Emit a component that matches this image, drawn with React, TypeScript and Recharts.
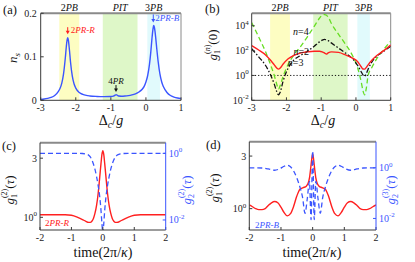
import React from 'react';
import {
  ComposedChart,
  Line,
  XAxis,
  YAxis,
  ReferenceArea,
  ReferenceLine,
  ReferenceDot
} from 'recharts';

const SERIF = 'Liberation Serif, Times New Roman, DejaVu Serif, serif';
const AXIS = '#3a3a3a';
const FRAME = '#8a8a8a';
const BLUE = '#3b55ff';
const RED = '#ff2020';
const GREEN = '#66dd22';
const W = 415;
const H = 262;

// (a) photon number n_s vs detuning
const detA = [-3, -2.9, -2.8, -2.7, -2.6, -2.5, -2.45, -2.4, -2.35, -2.3, -2.27, -2.25, -2.23, -2.21, -2.18, -2.15, -2.1, -2.05, -2, -1.9, -1.8, -1.7, -1.6, -1.4, -1.2, -1.0, -0.93, -0.88, -0.85, -0.82, -0.77, -0.7, -0.6, -0.5, -0.4, -0.3, -0.2, -0.1, -0.05, 0, 0.05, 0.1, 0.14, 0.17, 0.2, 0.22, 0.24, 0.26, 0.28, 0.31, 0.35, 0.4, 0.45, 0.5, 0.6, 0.7, 0.8, 0.9, 1.0];
const nsA = [0.002, 0.003, 0.0045, 0.0065, 0.011, 0.02, 0.027, 0.039, 0.06, 0.096, 0.123, 0.137, 0.144, 0.138, 0.115, 0.088, 0.056, 0.038, 0.028, 0.018, 0.0135, 0.0112, 0.01, 0.0089, 0.0085, 0.0088, 0.0095, 0.0118, 0.0128, 0.0118, 0.0098, 0.0094, 0.0098, 0.0108, 0.0125, 0.015, 0.019, 0.026, 0.032, 0.042, 0.057, 0.082, 0.112, 0.14, 0.163, 0.172, 0.168, 0.158, 0.143, 0.118, 0.088, 0.06, 0.042, 0.031, 0.018, 0.011, 0.0075, 0.0052, 0.0038];

// (b) g1^(n)(0) for n = 2, 3, 4
const detB = [-3, -2.8, -2.6, -2.45, -2.35, -2.28, -2.23, -2.18, -2.1, -1.95, -1.8, -1.6, -1.4, -1.2, -1.05, -0.97, -0.9, -0.85, -0.8, -0.7, -0.5, -0.3, -0.1, 0.05, 0.15, 0.2, 0.25, 0.3, 0.35, 0.45, 0.6, 0.8, 1.0];
const n2B = [251, 112, 45, 15.8, 7.1, 4.0, 3.2, 4.0, 7.9, 22, 40, 63, 79, 89, 89, 79, 63, 52, 66, 79, 71, 45, 25, 12.6, 5.0, 3.3, 3.2, 4.5, 7.1, 15.8, 40, 100, 282];
const n3B = [141, 31.6, 6.3, 1.0, 0.2, 0.05, 0.028, 0.045, 0.32, 4.0, 15.8, 40, 89, 224, 500, 700, 794, 708, 631, 398, 158, 63, 22, 6.3, 2.0, 1.12, 0.89, 1.41, 3.2, 11.2, 35, 89, 224];
const n4B = [17800, 1260, 79, 6.3, 1.0, 0.2, 0.079, 0.158, 0.79, 7.9, 40, 200, 1260, 8900, 39800, 70800, 79400, 70800, 50100, 14000, 2000, 316, 40, 4.0, 0.32, 0.063, 0.028, 0.1, 1.0, 4.0, 22.4, 126, 562];

// shaded blockade / PIT regions
const bandNames = ['2PB', 'PIT', '3PB'];
const bandFrom = [-2.47, -1.23, 0.04];
const bandTo = [-1.9, -0.24, 0.4];
const bandFills = ['#fdfdc2', '#def7c8', '#e1fafc'];

// (c) 2PR-R correlations
const tauC = [-2, -1.6, -1.2, -1.0, -0.8, -0.65, -0.55, -0.45, -0.4, -0.35, -0.3, -0.25, -0.2, -0.15, -0.1, -0.06, -0.03, 0, 0.03, 0.06, 0.1, 0.15, 0.2, 0.25, 0.3, 0.35, 0.4, 0.45, 0.55, 0.65, 0.8, 1.0, 1.2, 1.6, 2];
const g1C = [1.05, 1.05, 1.05, 1.04, 1.0, 0.96, 0.93, 0.91, 0.91, 0.93, 0.98, 1.08, 1.25, 1.55, 2.1, 2.7, 3.2, 3.45, 3.2, 2.7, 2.1, 1.55, 1.25, 1.08, 0.98, 0.93, 0.91, 0.91, 0.93, 0.96, 1.0, 1.04, 1.05, 1.05, 1.05];
const g2C = [1, 1, 1, 1, 1, 0.99, 0.96, 0.88, 0.78, 0.64, 0.48, 0.33, 0.2, 0.11, 0.05, 0.02, 0.008, 0.004, 0.008, 0.02, 0.05, 0.11, 0.2, 0.33, 0.48, 0.64, 0.78, 0.88, 0.96, 0.99, 1, 1, 1, 1, 1];

// (d) 2PR-B correlations
const tauD = [-2, -1.9, -1.8, -1.7, -1.6, -1.5, -1.4, -1.3, -1.2, -1.1, -1.0, -0.9, -0.8, -0.7, -0.6, -0.5, -0.4, -0.3, -0.2, -0.15, -0.1, -0.06, -0.03, 0, 0.03, 0.06, 0.1, 0.15, 0.2, 0.3, 0.4, 0.5, 0.6, 0.7, 0.8, 0.9, 1.0, 1.1, 1.2, 1.3, 1.4, 1.5, 1.6, 1.7, 1.8, 1.9, 2];
const g1D = [1.08, 1.04, 1.0, 0.98, 0.98, 1.0, 1.07, 1.13, 1.16, 1.13, 1.03, 0.92, 0.86, 0.9, 1.05, 1.3, 1.5, 1.55, 1.6, 1.68, 1.9, 2.35, 2.8, 3.15, 2.8, 2.35, 1.9, 1.68, 1.6, 1.55, 1.5, 1.3, 1.05, 0.9, 0.86, 0.92, 1.03, 1.13, 1.16, 1.13, 1.07, 1.0, 0.98, 0.98, 1.0, 1.04, 1.08];
const tauD3 = [-2, -1.8, -1.6, -1.4, -1.2, -1.05, -0.9, -0.8, -0.7, -0.6, -0.5, -0.4, -0.32, -0.24, -0.17, -0.1, -0.05, 0, 0.05, 0.1, 0.17, 0.24, 0.32, 0.4, 0.5, 0.6, 0.7, 0.8, 0.9, 1.05, 1.2, 1.4, 1.6, 1.8, 2];
const g3D = [1.0, 1.0, 0.98, 0.9, 0.8, 0.9, 1.15, 1.25, 1.1, 0.75, 0.4, 0.17, 0.07, 0.016, 0.06, 0.29, 0.009, 4.5, 0.009, 0.29, 0.06, 0.016, 0.07, 0.17, 0.4, 0.75, 1.1, 1.25, 1.15, 0.9, 0.8, 0.9, 0.98, 1.0, 1.0];

const detTicks = [-3, -2, -1, 0, 1];
const tauTicks = [-2, -1, 0, 1, 2];

const rowsA = detA.map((x, i) => ({ x, ns: nsA[i] }));
const rowsB = detB.map((x, i) => ({ x, n2: n2B[i], n3: n3B[i], n4: n4B[i] }));
const rowsC = tauC.map((x, i) => ({ x, g1: g1C[i], g2: g2C[i] }));
const rowsD1 = tauD.map((x, i) => ({ x, g1: g1D[i] }));
const rowsD3 = tauD3.map((x, i) => ({ x, g3: g3D[i] }));

const tickFont = { fontFamily: SERIF, fontSize: 10, fill: '#222' };

// tick labels as [base, exponent]
const powLabels: Record<string, string[]> = {
  '0.01': ['10', '-2'],
  '1': ['10', '0'],
  '100': ['10', '2'],
  '10000': ['10', '4'],
  '3': ['3', '']
};

const makeTick = (color: string) => (p: any) => {
  const lab = powLabels[String(p.payload.value)] || [String(p.payload.value), ''];
  return (
    <text x={p.x} y={p.y} dy="0.35em" textAnchor={p.textAnchor} fontFamily={SERIF} fontSize={10} fill={color}>
      {lab[0]}
      {lab[1] && <tspan dy={-4.5} fontSize={7}>{lab[1]}</tspan>}
    </text>
  );
};

const Arrow = ({ cx, cy, color, len }: any) => (
  <g>
    <line x1={cx} y1={cy - len} x2={cx} y2={cy - 3} stroke={color} strokeWidth={1} />
    <path d={`M${cx - 2},${cy - 3.5} L${cx + 2},${cy - 3.5} L${cx},${cy} Z`} fill={color} />
  </g>
);

const PR = ({ x, y, color, anchor = 'start', size = 9 }: any) => (
  <text x={x} y={y} fill={color} fontFamily={SERIF} fontSize={size} textAnchor={anchor}>
    {'2'}<tspan fontStyle="italic">PR-</tspan><tspan fontStyle="italic">{color === RED ? 'R' : 'B'}</tspan>
  </text>
);

const bandLabel = (name: string) => (p: any) => (
  <text x={p.cx} y={p.cy - 2.5} textAnchor="middle" fontFamily={SERIF} fontSize={10} fill="#111">
    {/^\d/.test(name) ? name[0] : ''}
    <tspan fontStyle="italic">{/^\d/.test(name) ? name.slice(1) : name}</tspan>
  </text>
);

const Bands = (top: number) =>
  bandNames.flatMap((n, i) => [
    <ReferenceArea key={'a' + n} x1={bandFrom[i]} x2={bandTo[i]} fill={bandFills[i]} fillOpacity={1} stroke="none" />,
    <ReferenceDot key={'l' + n} x={(bandFrom[i] + bandTo[i]) / 2} y={top} r={0} ifOverflow="visible" shape={bandLabel(n)} />
  ]);

const place = { position: 'absolute' as const, left: 0, top: 0 };

const PanelA = () => (
  <div style={place}>
    <ComposedChart width={W} height={H} data={rowsA} margin={{ top: 13.3, right: 234, bottom: 136.7, left: 10.7 }}>
      {Bands(0.2)}
      <XAxis dataKey="x" type="number" domain={[-3, 1]} ticks={detTicks} tickSize={-3} tickMargin={7} height={25}
        tick={tickFont} stroke={AXIS} allowDataOverflow />
      <YAxis type="number" domain={[0, 0.2]} ticks={[0, 0.1, 0.2]} tickSize={-3} tickMargin={7} width={30}
        tick={tickFont} stroke={AXIS} allowDataOverflow />
      <ReferenceLine y={0.2} stroke={FRAME} strokeWidth={2} />
      <ReferenceLine x={1} stroke={FRAME} strokeWidth={1} />
      <Line dataKey="ns" type="monotone" stroke={BLUE} strokeWidth={1.4} dot={false} isAnimationActive={false} />
      <ReferenceDot x={-2.23} y={0.152} r={0} ifOverflow="visible"
        shape={(p: any) => (<g><Arrow cx={p.cx} cy={p.cy} color={RED} len={7} /><PR x={p.cx + 3} y={p.cy - 1} color={RED} /></g>)} />
      <ReferenceDot x={0.21} y={0.179} r={0} ifOverflow="visible"
        shape={(p: any) => (<g><Arrow cx={p.cx} cy={p.cy} color={BLUE} len={8} /><PR x={p.cx + 2} y={p.cy - 1} color={BLUE} /></g>)} />
      <ReferenceDot x={-0.853} y={0.019} r={0} ifOverflow="visible"
        shape={(p: any) => (
          <g>
            <Arrow cx={p.cx} cy={p.cy} color="#111" len={7} />
            <text x={p.cx} y={p.cy - 8.5} textAnchor="middle" fontFamily={SERIF} fontSize={9} fill="#111">
              4<tspan fontStyle="italic">PR</tspan>
            </text>
          </g>
        )} />
    </ComposedChart>
  </div>
);

const nLabel = (txt: string) => (p: any) => (
  <text x={p.cx} y={p.cy} fontFamily={SERIF} fontSize={10} fill="#111">
    <tspan fontStyle="italic">n</tspan>={txt}
  </text>
);

const PanelB = () => (
  <div style={place}>
    <ComposedChart width={W} height={H} data={rowsB} margin={{ top: 13.3, right: 24.3, bottom: 136.7, left: 221.7 }}>
      {Bands(100000)}
      <XAxis dataKey="x" type="number" domain={[-3, 1]} ticks={detTicks} tickSize={-3} tickMargin={7} height={25}
        tick={tickFont} stroke={AXIS} allowDataOverflow />
      <YAxis type="number" scale="log" domain={[0.01, 100000]} ticks={[0.01, 1, 100, 10000]} tickSize={-3} tickMargin={6}
        width={30} tick={makeTick('#222')} stroke={AXIS} allowDataOverflow />
      <ReferenceLine y={100000} stroke={FRAME} strokeWidth={2} />
      <ReferenceLine x={1} stroke={FRAME} strokeWidth={1} />
      <ReferenceLine y={1} stroke="#111" strokeWidth={1} strokeDasharray="1.2 2" />
      <Line dataKey="n4" type="monotone" stroke={GREEN} strokeWidth={1.3} strokeDasharray="5 3" dot={false} isAnimationActive={false} />
      <Line dataKey="n3" type="monotone" stroke="#111" strokeWidth={1.3} strokeDasharray="5 2 1.5 2" dot={false} isAnimationActive={false} />
      <Line dataKey="n2" type="monotone" stroke={RED} strokeWidth={1.4} dot={false} isAnimationActive={false} />
      <ReferenceDot x={-1.81} y={1780} r={0} shape={nLabel('4')} />
      <ReferenceDot x={-1.8} y={44} r={0} shape={nLabel('2')} />
      <ReferenceDot x={-1.96} y={5.8} r={0} shape={nLabel('3')} />
    </ComposedChart>
  </div>
);

const PanelCorr = ({ left, top, rows1, rows2, key2, domL, domR, labelY, labelColor, labelX }: any) => (
  <div style={place}>
    <ComposedChart width={W} height={H} margin={{ top, right: W - left.r - 30, bottom: H - 230 - 25, left: left.l - 30 }}>
      <XAxis dataKey="x" type="number" domain={[-2, 2]} ticks={tauTicks} tickSize={-3} tickMargin={7} height={25}
        tick={tickFont} stroke={AXIS} allowDataOverflow />
      <YAxis yAxisId="l" type="number" scale="log" domain={domL} ticks={[1, 3]} tickSize={-3} tickMargin={6} width={30}
        tick={makeTick('#222')} stroke={AXIS} allowDataOverflow />
      <YAxis yAxisId="r" orientation="right" type="number" scale="log" domain={domR} ticks={[0.01, 1]} tickSize={-3}
        tickMargin={6} width={30} tick={makeTick(BLUE)} stroke={BLUE} allowDataOverflow />
      <ReferenceLine yAxisId="l" y={domL[1]} stroke={FRAME} strokeWidth={2} />
      <Line yAxisId="l" data={rows1} dataKey="g1" type="monotone" stroke={RED} strokeWidth={1.4} dot={false} isAnimationActive={false} />
      <Line yAxisId="r" data={rows2} dataKey={key2} type="monotone" stroke={BLUE} strokeWidth={1.3} strokeDasharray="5 3" dot={false} isAnimationActive={false} />
      <ReferenceDot yAxisId="l" x={labelX} y={labelY} r={0} ifOverflow="visible"
        shape={(p: any) => <PR x={p.cx} y={p.cy} color={labelColor} />} />
    </ComposedChart>
  </div>
);

const g = (sup: string, sub: string, x: number, y: number, color: string) => (
  <text transform={`translate(${x},${y}) rotate(-90)`} textAnchor="middle" fontSize={13} fill={color}>
    <tspan fontStyle="italic">g</tspan>
    <tspan fontSize={8} dy={3}>{sub}</tspan>
    <tspan fontSize={8} dx={-4} dy={-10}>{'('}<tspan fontStyle="italic">{sup === 'n' ? 'n' : ''}</tspan>{sup === 'n' ? '' : sup}{')'}</tspan>
    <tspan dy={7}>{y < 100 ? '(0)' : '('}</tspan>
    {y > 100 && <tspan fontStyle="italic">τ</tspan>}
    {y > 100 && <tspan>)</tspan>}
  </text>
);

const Labels = () => (
  <svg width={W} height={H} style={{ ...place, pointerEvents: 'none' }} fontFamily={SERIF} fill="#111">
    <text x={3} y={14} fontSize={12.5}>(a)</text>
    <text x={205} y={13} fontSize={12.5}>(b)</text>
    <text x={2} y={150} fontSize={12.5}>(c)</text>
    <text x={206} y={149} fontSize={12.5}>(d)</text>
    <text transform="translate(17,58) rotate(-90)" textAnchor="middle" fontSize={13}>
      <tspan fontStyle="italic">n</tspan><tspan fontStyle="italic" fontSize={9} dy={3}>s</tspan>
    </text>
    <text x={111} y={125} textAnchor="middle" fontSize={14}>
      Δ<tspan fontStyle="italic" fontSize={10} dy={3}>c</tspan><tspan dy={-3}>/</tspan><tspan fontStyle="italic">g</tspan>
    </text>
    <text x={323} y={125} textAnchor="middle" fontSize={14}>
      Δ<tspan fontStyle="italic" fontSize={10} dy={3}>c</tspan><tspan dy={-3}>/</tspan><tspan fontStyle="italic">g</tspan>
    </text>
    {g('n', '1', 217, 45, '#111')}
    {g('2', '1', 14, 190, '#111')}
    {g('2', '2', 191, 190, BLUE)}
    {g('2', '1', 219, 188, '#111')}
    {g('3', '2', 395, 190, BLUE)}
    <text x={103} y={257} textAnchor="middle" fontSize={14}>time(2π/<tspan fontStyle="italic">κ</tspan>)</text>
    <text x={312} y={257} textAnchor="middle" fontSize={14}>time(2π/<tspan fontStyle="italic">κ</tspan>)</text>
  </svg>
);

export default function App() {
  return (
    <div style={{ position: 'fixed', left: 0, top: 0, width: W, height: H, background: '#fff', fontFamily: SERIF }}>
      <PanelA />
      <PanelB />
      <PanelCorr left={{ l: 40, r: 165.7 }} top={142.7} rows1={rowsC} rows2={rowsC} key2="g2"
        domL={[0.79, 4.0]} domR={[0.005, 2.09]} labelX={-1.84} labelY={0.85} labelColor={RED} />
      <PanelCorr left={{ l: 249.3, r: 376 }} top={141.7} rows1={rowsD1} rows2={rowsD3} key2="g3"
        domL={[0.64, 4.05]} domR={[0.0035, 10.7]} labelX={-1.82} labelY={0.67} labelColor={BLUE} />
      <Labels />
    </div>
  );
}
